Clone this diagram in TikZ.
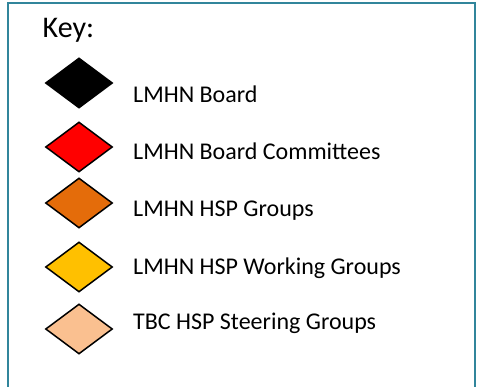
\documentclass[tikz,border=0pt]{standalone}
\usepackage{fontspec}
\setmainfont{Carlito}
\usepackage{tikz}
\usetikzlibrary{shapes.geometric}
\definecolor{Frame}{RGB}{49,133,155}
\definecolor{BoardCol}{RGB}{0,0,0}
\definecolor{CommitteeCol}{RGB}{255,0,0}
\definecolor{GroupCol}{RGB}{228,108,10}
\definecolor{WorkingCol}{RGB}{255,192,0}
\definecolor{SteeringCol}{RGB}{250,192,144}
\tikzset{
keydiamond/.style={diamond,draw=black,line width=1.5pt,minimum width=67pt,minimum height=50pt,inner sep=0pt},
keylabel/.style={anchor=base west,inner sep=0pt,font=\fontsize{24}{28}\selectfont}
}
\newcommand{\KeyEntry}[5]{% name diamond-y text-y colour label
\node[keydiamond,fill=#4] (#1) at (79,#2) {};
\node[keylabel] (#1-text) at (133,#3) {#5};
}

\begin{document}
\begin{tikzpicture}[x=1pt,y=-1pt]
\useasboundingbox (0,0) rectangle (479,387);
% frame, open at the bottom edge of the page
\draw[Frame,line width=2pt] (8,392) -- (8,3) -- (475,3) -- (475,392);
\node[anchor=base west,inner sep=0pt,font=\fontsize{30}{35}\selectfont] (keytitle) at (42.5,37.7) {Key:};
\KeyEntry{board}{83}{102.3}{BoardCol}{LMHN Board}
\KeyEntry{committees}{147}{160}{CommitteeCol}{LMHN Board Committees}
\KeyEntry{hspgroups}{203}{216.7}{GroupCol}{LMHN HSP Groups}
\KeyEntry{working}{267}{275}{WorkingCol}{LMHN HSP Working Groups}
\KeyEntry{steering}{329}{329}{SteeringCol}{TBC HSP Steering Groups}
\end{tikzpicture}
\end{document}
